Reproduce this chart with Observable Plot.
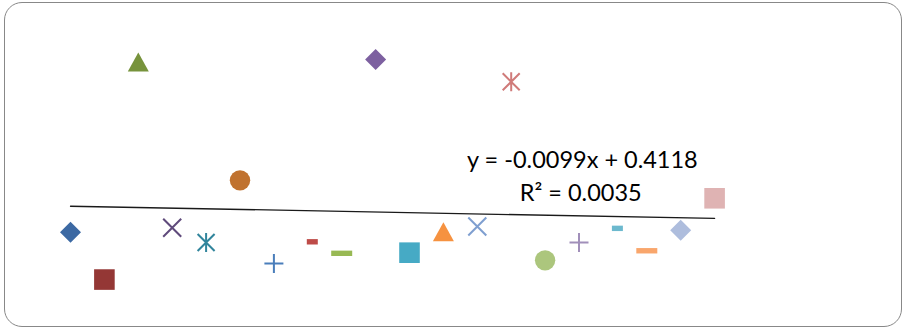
<!DOCTYPE html>
<html>
<head>
<meta charset="utf-8">
<script src="https://cdn.jsdelivr.net/npm/d3@7"></script>
<script src="https://cdn.jsdelivr.net/npm/@observablehq/plot@0.6"></script>
<style>
  html, body { margin: 0; padding: 0; background: #fff; }
  #wrap { position: relative; width: 903px; height: 329px; overflow: hidden; }
  #wrap svg { position: absolute; left: 0; top: 0; }
  #frame { position: absolute; left: 4px; top: 2px; width: 896px; height: 323px;
           border: 1.5px solid #888; border-radius: 18px; pointer-events: none; }
</style>
</head>
<body>
<div id="wrap"><div id="chart"></div><div id="frame"></div></div>
<script>
// ---- data ----
const xs = [1, 2, 3, 4, 5, 6, 7, 8, 9, 10, 11, 12, 13, 14, 15, 16, 17, 18, 19, 20];
const ys = [0.0, -0.74, 2.65, 0.07, -0.16, 0.81, -0.49, -0.15, -0.33, 2.70,
            -0.32, 0.0, 0.09, 2.35, -0.44, -0.16, 0.06, -0.29, 0.03, 0.53];
const markers = ["diamond", "square", "triangle", "times", "asterisk", "circle", "plus", "dashShort", "dashLong", "diamond",
                 "square", "triangle", "times", "asterisk", "circle", "plus", "dashShort", "dashLong", "diamond", "square"];
const colors = ["#3c69a3", "#943735", "#77933c", "#5f4a7b", "#31859c", "#c0722f", "#4a7ebb", "#be4b48", "#98b954", "#7d60a0",
                "#46aac5", "#f69240", "#7f9fd0", "#d07b7a", "#acc67d", "#a18fba", "#6cb9ce", "#f9a66c", "#aebddd", "#dfb3b3"];
const equationLabels = ["y = -0.0099x + 0.4118", "R² = 0.0035"];
const labelX = [16.1, 16.05];
const labelY = [1.12, 0.61];

const points = xs.map((x, i) => ({x, y: ys[i], marker: markers[i], color: colors[i]}));
const labels = equationLabels.map((t, i) => ({t, x: labelX[i], y: labelY[i]}));

// ---- marker shapes (Excel-like) ----
const shapes = {
  diamond: {draw(c) { const r = 10.5; c.moveTo(0, -r); c.lineTo(r, 0); c.lineTo(0, r); c.lineTo(-r, 0); c.closePath(); }},
  square: {draw(c) { const h = 10.3; c.rect(-h, -h, 2 * h, 2 * h); }},
  triangle: {draw(c) { c.moveTo(0, -10); c.lineTo(10.5, 9); c.lineTo(-10.5, 9); c.closePath(); }},
  circle: {draw(c) { c.moveTo(10.2, 0); c.arc(0, 0, 10.2, 0, 2 * Math.PI); }},
  dashShort: {draw(c) { c.rect(-1, -2.7, 11, 5.4); }},
  dashLong: {draw(c) { c.rect(-10.5, -2.7, 21, 5.4); }},
  times: {draw(c) { const r = 9; c.moveTo(-r, -r); c.lineTo(r, r); c.moveTo(r, -r); c.lineTo(-r, r); }},
  asterisk: {draw(c) { const r = 8.5; c.moveTo(-r, -r); c.lineTo(r, r); c.moveTo(r, -r); c.lineTo(-r, r); c.moveTo(0, -9.5); c.lineTo(0, 9.5); }},
  plus: {draw(c) { const r = 9.5; c.moveTo(-r, 0); c.lineTo(r, 0); c.moveTo(0, -r); c.lineTo(0, r); }}
};
const stroked = new Set(["times", "asterisk", "plus"]);

const dotMarks = Object.keys(shapes).map(name => {
  const data = points.filter(d => d.marker === name);
  return stroked.has(name)
    ? Plot.dot(data, {x: "x", y: "y", symbol: shapes[name], r: 5, fill: "none", stroke: "color", strokeWidth: 2})
    : Plot.dot(data, {x: "x", y: "y", symbol: shapes[name], r: 5, fill: "color", stroke: "none"});
});

const chart = Plot.plot({
  width: 903,
  height: 329,
  marginLeft: 36.1,
  marginRight: 19.4,
  marginTop: 7.7,
  marginBottom: 1.3,
  x: {domain: [0, 25], axis: null},
  y: {domain: [-1.5, 3.5], axis: null},
  color: {type: "identity"},
  style: {background: "transparent", fontFamily: "Lato, 'Open Sans', sans-serif"},
  marks: [
    Plot.linearRegressionY(points, {x: "x", y: "y", ci: 0, stroke: "#1a1a1a", strokeWidth: 1.3}),
    ...dotMarks,
    Plot.text(labels, {x: "x", y: "y", text: "t", fontSize: 23.5, fill: "#000", textAnchor: "middle", lineAnchor: "middle"})
  ]
});
document.getElementById("chart").appendChild(chart);
</script>
</body>
</html>
